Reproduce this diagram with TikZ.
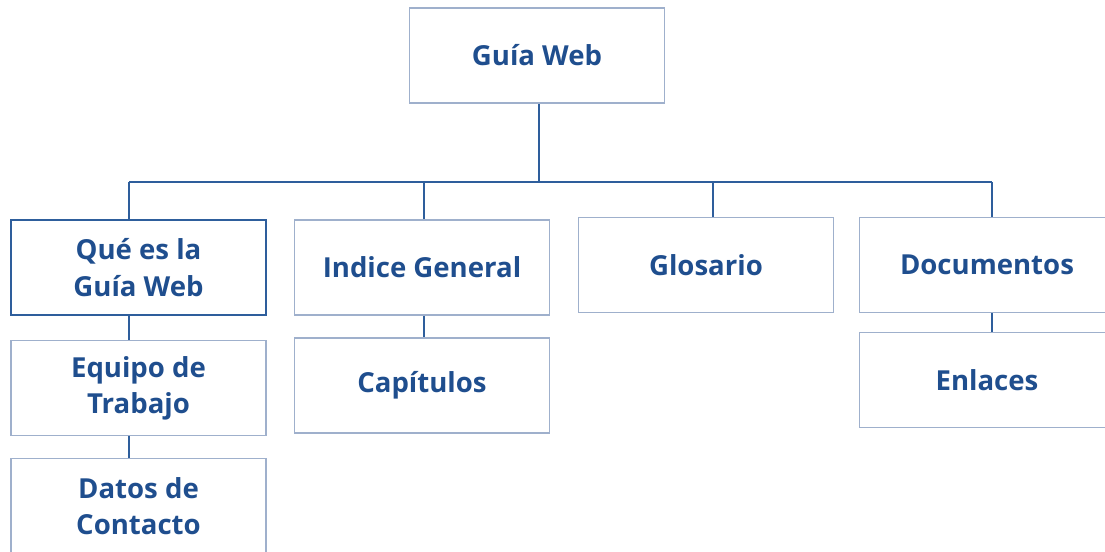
\documentclass[tikz,border=0pt]{standalone}
\usepackage{fontspec}
\setmainfont{Open Sans}
\definecolor{txtblue}{HTML}{1F4E8E}
\definecolor{lineblue}{HTML}{2E5E9C}
\definecolor{lightborder}{HTML}{9FB0CC}
\tikzset{
  box/.style={draw=lightborder, line width=1.3pt, minimum width=6.375cm, minimum height=2.375cm,
    align=center, text=txtblue, font=\fontsize{19.6}{25.8}\selectfont\bfseries, inner sep=0pt},
  darkbox/.style={box, draw=lineblue},
  conn/.style={draw=lineblue, line width=1.1pt}
}
\begin{document}
\begin{tikzpicture}[x=0.025cm, y=-0.025cm]
\useasboundingbox (0,0) rectangle (1105,552);
\node[box] (top) at (537,55.5) {Guía Web};
\node[darkbox] (que) at (138.5,267.5) {Qué es la\\Guía Web};
\node[box] (idx) at (422,267.5) {Indice General};
\node[box] (glo) at (706,265) {Glosario};
\node[box] (doc) at (987,265) {Documentos};
\node[box] (enl) at (987,380) {Enlaces};
\node[box] (eq) at (138.5,388) {Equipo de\\Trabajo};
\node[box] (dat) at (138.5,506) {Datos de\\Contacto};
\node[box] (cap) at (422,385.5) {Capítulos};
\coordinate (bl) at (129,182);
\coordinate (br) at (992,182);
\draw[conn] (bl) -- (br);
\draw[conn] (top.south -| 539,0) -- (539,182);
\draw[conn] (bl) -- (bl |- que.north);
\draw[conn] (idx.north -| 424,0) -- (424,182);
\draw[conn] (glo.north -| 713,0) -- (713,182);
\draw[conn] (br) -- (br |- doc.north);
\draw[conn] (que.south -| bl) -- (eq.north -| bl);
\draw[conn] (eq.south -| bl) -- (dat.north -| bl);
\draw[conn] (idx.south -| 424,0) -- (cap.north -| 424,0);
\draw[conn] (doc.south -| br) -- (enl.north -| br);
\end{tikzpicture}
\end{document}
